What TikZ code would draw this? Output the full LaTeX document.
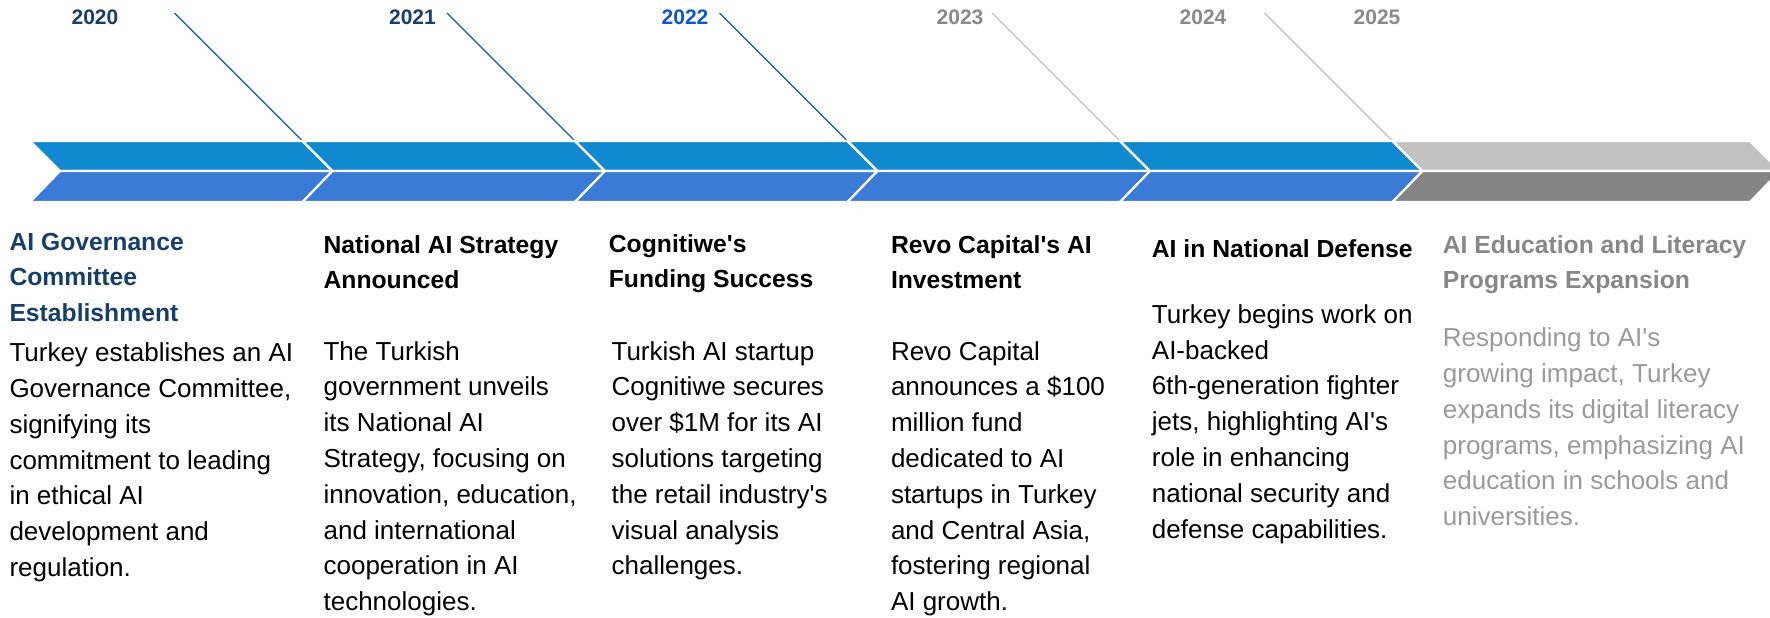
\documentclass[tikz,border=0pt]{standalone}
\usepackage{fontspec}
\setmainfont{Liberation Sans}
\definecolor{navy}{HTML}{163E6C}
\definecolor{brightblue}{HTML}{0B57D0}
\definecolor{yeargrey}{HTML}{898989}
\definecolor{leadgrey}{HTML}{C6C6C6}
\definecolor{bandtop}{HTML}{1089D0}
\definecolor{bandbot}{HTML}{3B7BD8}
\definecolor{greytop}{HTML}{C1C1C1}
\definecolor{greybot}{HTML}{858585}
\definecolor{headgrey}{HTML}{878787}
\definecolor{bodygrey}{HTML}{9A9A9A}
\newcommand\colbox[1]{\parbox[t]{340pt}{\raggedright #1}}
\newcommand\ap{\textquotesingle}
\tikzset{
  year/.style={anchor=base, inner sep=0pt, font=\fontsize{21}{25}\selectfont\bfseries},
  head/.style={anchor=base west, inner sep=0pt, font=\fontsize{24.7}{35.6}\selectfont\bfseries},
  body/.style={anchor=base west, inner sep=0pt, font=\fontsize{26}{35.8}\selectfont},
  leader/.style={line width=1.4pt},
  band/.style={draw=white, line width=2.2pt}
}
\begin{document}
\begin{tikzpicture}[x=1pt, y=-1pt]
        \useasboundingbox (0,0) rectangle (1770,618);
        \clip (0,0) rectangle (1770,618);

        % leader lines
        \foreach \i in {0,...,4} {
            \coordinate (top\i) at ({174.5+272.5*\i},13);
            \coordinate (tip\i) at ({332.5+272.5*\i},171);
        }
        \draw [leader, brightblue] (top0) -- (tip0);
        \draw [leader, brightblue] (top1) -- (tip1);
        \draw [leader, brightblue] (top2) -- (tip2);
        \draw [leader, leadgrey] (top3) -- (tip3);
        \draw [leader, leadgrey] (top4) -- (tip4);

        % chevron band
        \foreach \i in {0,...,4} {
            \pgfmathsetmacro\xl{30+272.5*\i}
            \pgfmathsetmacro\xr{\xl+272.5}
            \filldraw [band, fill=bandtop] (\xl,141) -- (\xr,141) -- (\xr+30,171) -- (\xl+30,171) -- cycle;
            \filldraw [band, fill=bandbot] (\xl+30,171) -- (\xr+30,171) -- (\xr,202) -- (\xl,202) -- cycle;
        }
        \filldraw [band, fill=greytop] (1392.5,141) -- (1750,141) -- (1780,171) -- (1422.5,171) -- cycle;
        \filldraw [band, fill=greybot] (1422.5,171) -- (1780,171) -- (1750,202) -- (1392.5,202) -- cycle;

        % years
        \node [year, navy] (y2020) at (95,25) {2020};
        \node [year, navy] (y2021) at (412.5,25) {2021};
        \node [year, brightblue] (y2022) at (685,25) {2022};
        \node [year, yeargrey] (y2023) at (960,25) {2023};
        \node [year, yeargrey] (y2024) at (1203,25) {2024};
        \node [year, yeargrey] (y2025) at (1377,25) {2025};

        % milestones
        \node [head, navy] (head2020) at (9.3,250) {\colbox{AI Governance\\Committee\\Establishment}};
        \node [body] (text2020) at (9.3,361.7) {\colbox{Turkey establishes an AI\\Governance Committee,\\signifying its\\commitment to leading\\in ethical AI\\development and\\regulation.}};

        \node [head] (head2021) at (323.4,253.3) {\colbox{National AI Strategy\\Announced}};
        \node [body] (text2021) at (323.4,360) {\colbox{The Turkish\\government unveils\\its National AI\\Strategy, focusing on\\innovation, education,\\and international\\cooperation in AI\\technologies.}};

        \node [head] (head2022) at (608.7,252) {\colbox{Cognitiwe\ap s\\Funding Success}};
        \node [body] (text2022) at (611.4,360) {\colbox{Turkish AI startup\\Cognitiwe secures\\over \$1M for its AI\\solutions targeting\\the retail industry\ap s\\visual analysis\\challenges.}};

        \node [head] (head2023) at (890.8,253) {\colbox{Revo Capital\ap s AI\\Investment}};
        \node [body] (text2023) at (890.8,360) {\colbox{Revo Capital\\announces a \$100\\million fund\\dedicated to AI\\startups in Turkey\\and Central Asia,\\fostering regional\\AI growth.}};

        \node [head] (head2024) at (1151.7,257.3) {\colbox{AI in National Defense}};
        \node [body] (text2024) at (1151.7,323.3) {\colbox{Turkey begins work on\\AI-backed\\6th-generation fighter\\jets, highlighting AI\ap s\\role in enhancing\\national security and\\defense capabilities.}};

        \node [head, headgrey] (head2025) at (1442.7,253.3) {\colbox{AI Education and Literacy\\Programs Expansion}};
        \node [body, bodygrey] (text2025) at (1442.7,346.7) {\colbox{Responding to AI\ap s\\growing impact, Turkey\\expands its digital literacy\\programs, emphasizing AI\\education in schools and\\universities.}};
    \end{tikzpicture}
\end{document}
